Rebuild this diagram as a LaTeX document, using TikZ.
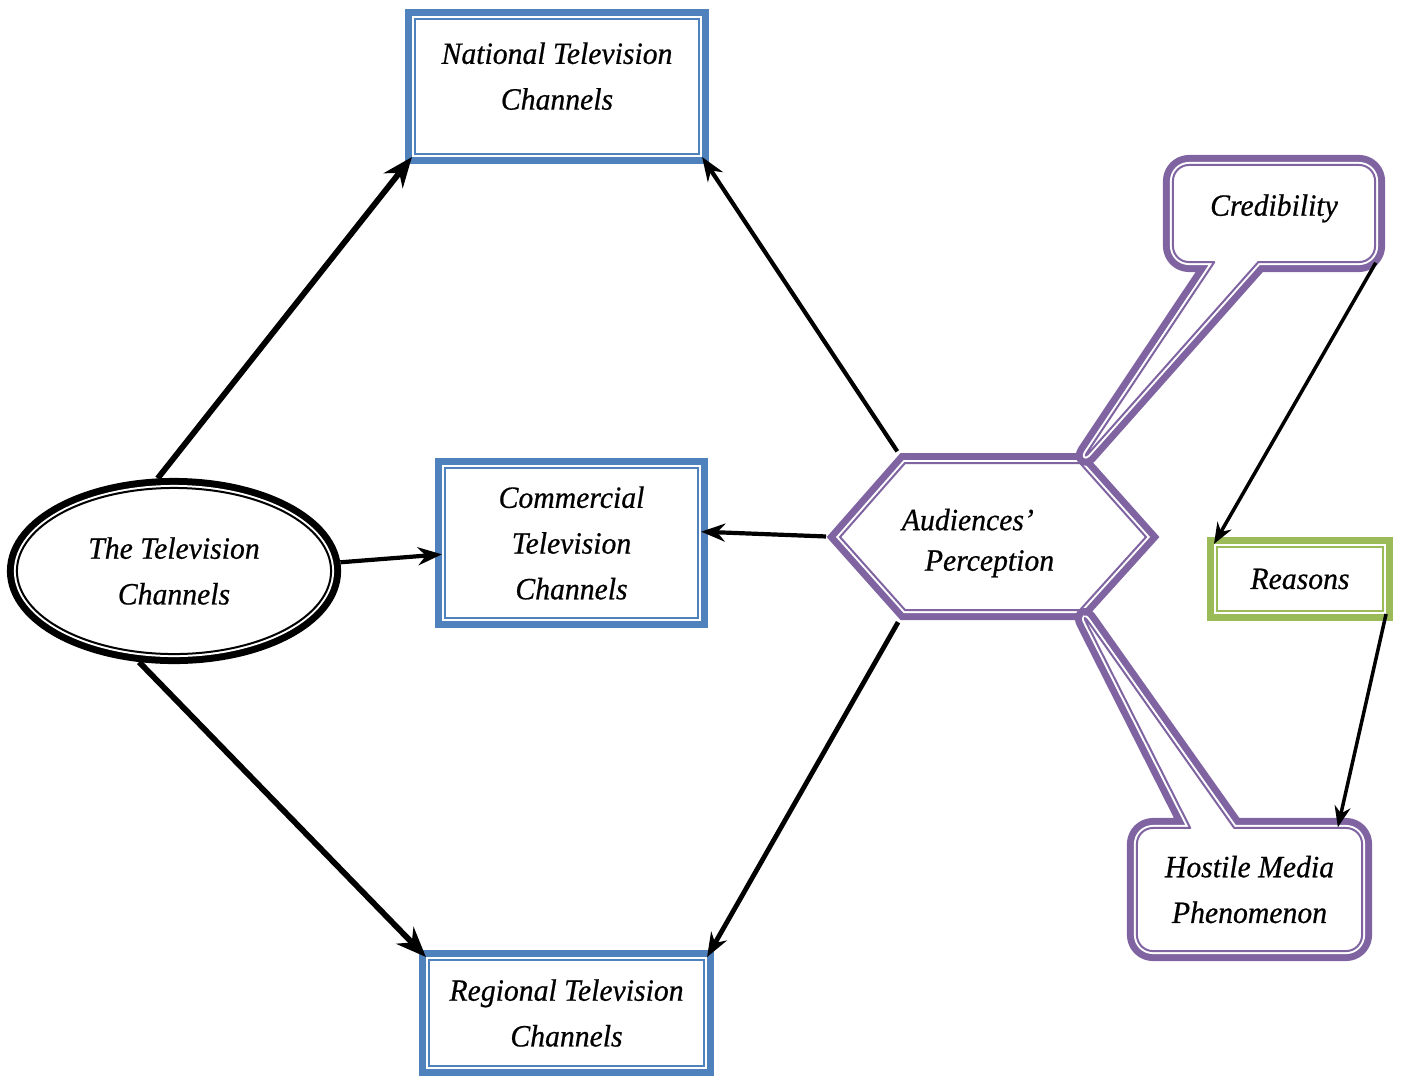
\documentclass[tikz,border=0pt]{standalone}
\usepackage{fontspec}
\newfontfamily\lblfont{Liberation Serif}[FakeStretch=0.96, FakeBold=0.6]
\usetikzlibrary{positioning, calc, shapes.geometric, shapes.callouts, arrows.meta}
\definecolor{chanblue}{HTML}{4F81BD}
\definecolor{percpurple}{HTML}{8064A2}
\definecolor{reasongreen}{HTML}{9BBB59}

\begin{document}
\begin{tikzpicture}[x=0.01cm, y=-0.01cm,
    band/.style={fill=white, preaction={draw=#1, line width=0.2cm},
        postaction={draw=white, line width=0.06cm}, postaction={draw=#1, line width=0.02cm}},
    txt/.style={align=center, font=\lblfont\itshape\fontsize{8.8pt}{13pt}\selectfont},
    channel/.style={band=chanblue, txt, rectangle, inner sep=0pt, outer sep=0.03cm},
    bubble/.style={band=percpurple, txt, rectangle callout, rounded corners=0.16cm,
        line join=round, inner sep=0pt, callout pointer width=0.44cm},
    bigarrow/.style={-{Stealth[length=0.3cm, width=0.24cm]}, line width=0.058cm},
    directed/.style={-{Stealth[length=0.24cm, width=0.18cm]}, line width=0.042cm},
    thinarrow/.style={-{Stealth[length=0.21cm, width=0.16cm]}, line width=0.035cm}
]
\useasboundingbox (0,0) rectangle (1403,1078);

% hexagon of the audiences' perception
\coordinate (perc-w) at (840,537);
\coordinate (perc-nw) at (905,463);
\coordinate (perc-ne) at (1080,463);
\coordinate (perc-e) at (1146,537);
\coordinate (perc-se) at (1080,610);
\coordinate (perc-sw) at (905,610);
\path[band=percpurple] (perc-w) -- (perc-nw) -- (perc-ne) -- (perc-e) -- (perc-se) -- (perc-sw) -- cycle;
\node[txt, align=left, font=\lblfont\itshape\fontsize{8.8pt}{11.5pt}\selectfont] (perc) at (978,543)
    {Audiences’\\\hspace*{0.23cm}Perception};

% callouts
\node[bubble, minimum width=2.02cm, minimum height=0.97cm, text depth=0.17cm,
    callout absolute pointer={(perc-ne)}] (cred) at (1274,213.5) {Credibility};
\node[bubble, minimum width=2.25cm, minimum height=1.23cm,
    callout absolute pointer={(perc-se)}] (host) at (1249.5,889.5) {Hostile Media\\Phenomenon};

% channels
\node[band=black, txt, ellipse, minimum width=3.14cm, minimum height=1.66cm, inner sep=0pt,
    outer sep=0.1cm] (tv) at (174,571) {The Television\\Channels};
\node[channel, minimum width=2.84cm, minimum height=1.35cm, text depth=0.21cm] (nat) at (557,86.5)
    {National Television\\Channels};
\node[channel, minimum width=2.53cm, minimum height=1.5cm] (com) at (571.5,543)
    {Commercial\\Television\\Channels};
\node[channel, minimum width=2.75cm, minimum height=1.06cm] (reg) at (566.5,1013)
    {Regional Television\\Channels};
\node[channel, band=reasongreen, minimum width=1.66cm, minimum height=0.64cm] (rea) at (1300,579)
    {Reasons};

% connectors
\draw[bigarrow] (tv.100) -- (nat.south west);
\draw[directed] (tv.3) -- (com.185);
\draw[bigarrow] (tv.249) -- (reg.north west);
\draw[directed, shorten <=0.14cm] (perc-nw) -- (nat.south east);
\draw[directed, shorten <=0.14cm] (perc-w) -- (com.5);
\draw[directed, line width=0.048cm, shorten <=0.14cm] (perc-sw) -- (reg.north east);
\draw[thinarrow] (cred.south east) -- (rea.north west);
\draw[thinarrow] (rea.south east) -- ($(host.north east)!0.11!(host.north west)$);

\end{tikzpicture}
\end{document}
